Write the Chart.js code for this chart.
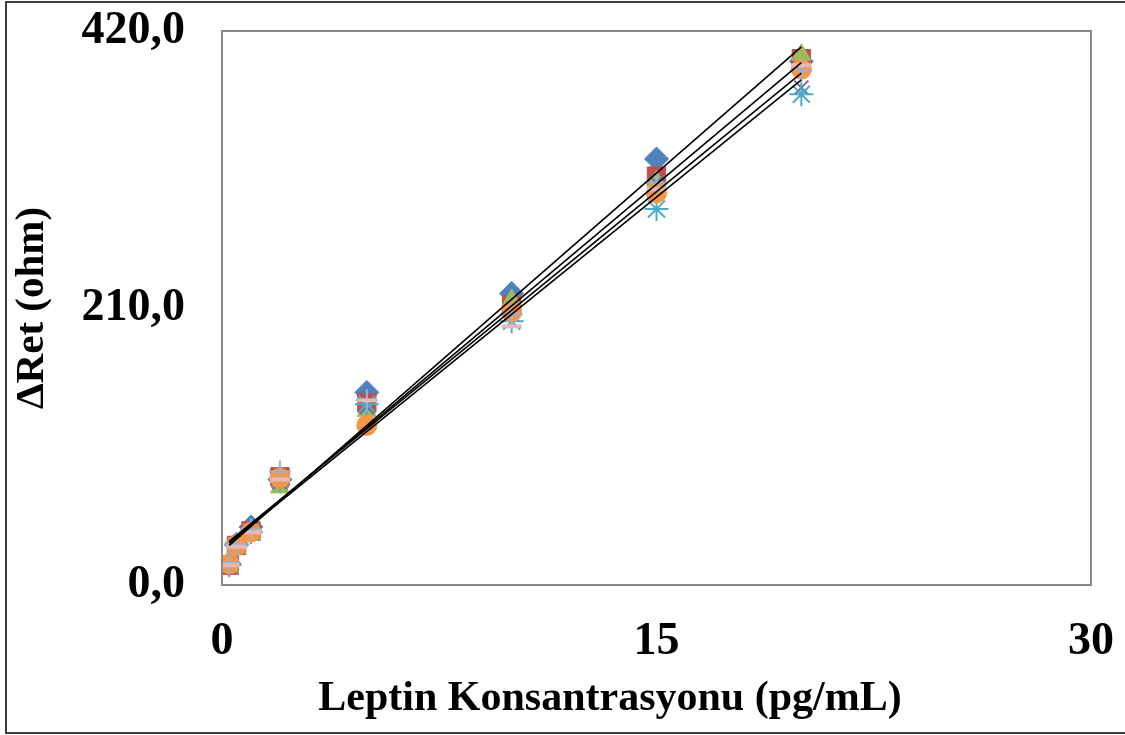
<!DOCTYPE html>
<html>
<head>
<meta charset="utf-8">
<script src="https://cdn.jsdelivr.net/npm/chart.js@4"></script>
<style>
  html, body { margin: 0; padding: 0; background: #ffffff; }
  #wrap { width: 1125px; height: 735px; position: relative; }
</style>
</head>
<body>
<div id="wrap"><canvas id="c" width="1125" height="735"></canvas></div>
<script>
// Concentrations (pg/mL)
const concentrations = [0.25, 0.5, 1, 2, 5, 10, 15, 20];

// Measured ΔRet (ohm) per replicate series
const seriesBlue   = [16, 31, 44, 80, 146, 221, 323, 397];
const seriesRed    = [15, 30, 41, 82, 138, 212, 310, 399];
const seriesGreen  = [14, 28, 38, 74, 132, 216, 306, 402];
const seriesPurple = [15, 29, 40, 78, 135, 205, 305, 377];
const seriesCyan   = [15, 30, 40, 80, 137, 200, 285, 372];
const seriesOrange = [16, 30, 40, 81, 121, 207, 297, 391];
const seriesPlus   = [17, 31, 42, 86, 140, 205, 305, 390];
const seriesPink   = [15, 29, 40, 80, 140, 196, 300, 394];

// Linear trend lines: values at the first and last concentration
const trendX = [0.25, 20];
const trend1 = [30, 408];
const trend2 = [32, 396];
const trend3 = [33, 388];
const trend4 = [32, 383];

// Axis ticks
const xTicks = [0, 15, 30];
const yTicks = [0, 210, 420];

const toPts = (xs, ys) => xs.map((x, i) => ({ x: x, y: ys[i] }));

const markerSeries = [
  { data: seriesBlue,   style: 'rectRot',  color: '#4F81BD', fill: '#4F81BD', r: 12, bw: 1 },
  { data: seriesRed,    style: 'rect',     color: '#C0504D', fill: '#C0504D', r: 13, bw: 1 },
  { data: seriesGreen,  style: 'triangle', color: '#9BBB59', fill: '#9BBB59', r: 11, bw: 1 },
  { data: seriesPurple, style: 'crossRot', color: '#8064A2', fill: '#8064A2', r: 10, bw: 2 },
  { data: seriesCyan,   style: 'star',     color: '#4BACC6', fill: '#4BACC6', r: 12, bw: 2 },
  { data: seriesOrange, style: 'circle',   color: '#F79646', fill: '#F79646', r: 10, bw: 1 },
  { data: seriesPlus,   style: 'cross',    color: '#95B3D7', fill: '#95B3D7', r: 11, bw: 2 },
  { data: seriesPink,   style: 'line',     color: '#E6B9B8', fill: '#E6B9B8', r: 10, bw: 4 }
];

const datasets = [];
markerSeries.forEach((s, i) => {
  datasets.push({
    data: toPts(concentrations, s.data),
    showLine: false,
    pointStyle: s.style,
    pointRadius: s.r,
    pointHoverRadius: s.r,
    pointBorderWidth: s.bw,
    borderColor: s.color,
    backgroundColor: s.fill,
    order: 20 - i
  });
});
[trend1, trend2, trend3, trend4].forEach((t) => {
  datasets.push({
    data: toPts(trendX, t),
    showLine: true,
    borderColor: '#000000',
    borderWidth: 1.6,
    pointRadius: 0,
    fill: false,
    order: 0
  });
});

const FONT = "'Liberation Serif', 'Times New Roman', serif";

const framePlugin = {
  id: 'frame',
  afterDraw(chart) {
    const ctx = chart.ctx;
    const a = chart.chartArea;
    ctx.save();
    // plot area border
    ctx.strokeStyle = '#8a8a8a';
    ctx.lineWidth = 2;
    ctx.strokeRect(a.left, a.top, a.right - a.left, a.bottom - a.top);
    // outer picture border
    ctx.strokeStyle = '#404040';
    ctx.lineWidth = 2;
    ctx.beginPath();
    ctx.moveTo(1130, 2);
    ctx.lineTo(6, 2);
    ctx.lineTo(6, 733);
    ctx.lineTo(1130, 733);
    ctx.stroke();
    // x axis title
    ctx.fillStyle = '#000000';
    ctx.font = "bold 42px " + FONT;
    ctx.textAlign = 'center';
    ctx.textBaseline = 'alphabetic';
    ctx.fillText('Leptin Konsantrasyonu (pg/mL)', 610, 710);
    ctx.restore();
  }
};

const noOverhang = (s) => {
  s.paddingTop = 0; s.paddingBottom = 0; s.paddingLeft = 0; s.paddingRight = 0;
};

new Chart(document.getElementById('c'), {
  type: 'scatter',
  data: { datasets: datasets },
  options: {
    responsive: false,
    animation: false,
    events: [],
    layout: { padding: { top: 31, right: 34, left: 0, bottom: 0 } },
    plugins: { legend: { display: false }, tooltip: { enabled: false } },
    scales: {
      x: {
        type: 'linear',
        min: xTicks[0],
        max: xTicks[xTicks.length - 1],
        afterFit: (s) => { s.height = 150; noOverhang(s); },
        afterBuildTicks: (s) => { s.ticks = xTicks.map(v => ({ value: v })); },
        grid: { display: false, drawTicks: false },
        border: { display: false },
        ticks: {
          padding: 30,
          color: '#000000',
          font: { family: FONT, size: 46, weight: 'bold' },
          maxRotation: 0,
          callback: (v) => String(v)
        },
        title: { display: false }
      },
      y: {
        type: 'linear',
        min: yTicks[0],
        max: yTicks[yTicks.length - 1],
        afterFit: (s) => { s.width = 222; noOverhang(s); },
        afterBuildTicks: (s) => { s.ticks = yTicks.map(v => ({ value: v })); },
        grid: { display: false, drawTicks: false },
        border: { display: false },
        ticks: {
          padding: 37,
          color: '#000000',
          font: { family: FONT, size: 46, weight: 'bold' },
          callback: (v) => Number(v).toFixed(1).replace('.', ',')
        },
        title: {
          display: true,
          text: 'ΔRet (ohm)',
          color: '#000000',
          font: { family: FONT, size: 41, weight: 'bold' },
          padding: { top: 8, bottom: 0 }
        }
      }
    }
  },
  plugins: [framePlugin]
});
</script>
</body>
</html>
